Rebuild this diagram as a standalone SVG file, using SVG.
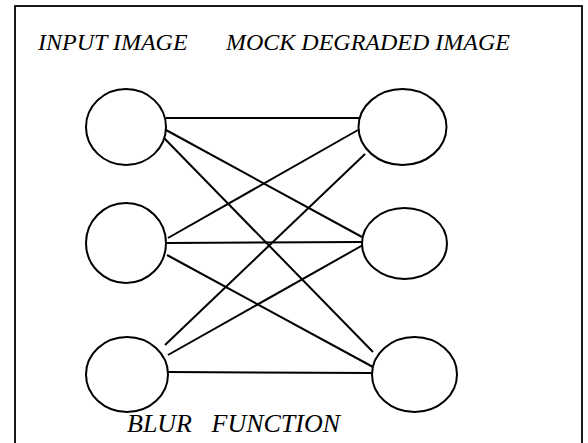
<svg xmlns="http://www.w3.org/2000/svg" width="588" height="443" viewBox="0 0 588 443">
  <style>
    .frame { fill: #fff; stroke: #000; stroke-width: 1.8; }
    .node { fill: #fff; stroke: #000; stroke-width: 2; }
    .edge { stroke: #000; stroke-width: 2; fill: none; }
    .label { font-family: "Liberation Serif", "Times New Roman", serif; font-style: italic; font-size: 24px; fill: #000; white-space: pre; }
    .label-lg { font-size: 26px; }
  </style>
  <!-- outer frame; its lower edge runs past the bottom of the canvas -->
  <rect class="frame" x="15" y="6" width="567" height="445"/>

  <text class="label" x="38" y="50">INPUT IMAGE</text>
  <text class="label" x="226" y="50">MOCK DEGRADED IMAGE</text>
  <text class="label label-lg" x="127" y="432">BLUR   FUNCTION</text>

  <g id="connectors">
    <line class="edge" x1="166" y1="118" x2="361" y2="118"/>
    <line class="edge" x1="166" y1="130" x2="362" y2="237"/>
    <line class="edge" x1="164" y1="138" x2="373" y2="352"/>
    <line class="edge" x1="168" y1="238" x2="358" y2="130"/>
    <line class="edge" x1="166" y1="243" x2="362" y2="242"/>
    <line class="edge" x1="167" y1="255" x2="373" y2="367"/>
    <line class="edge" x1="165" y1="345" x2="365" y2="154"/>
    <line class="edge" x1="168" y1="355" x2="363" y2="245"/>
    <line class="edge" x1="168" y1="372" x2="372" y2="373"/>
  </g>

  <g id="in-top"><ellipse class="node" cx="126" cy="127" rx="40" ry="38"/></g>
  <g id="in-mid"><ellipse class="node" cx="126" cy="243" rx="40" ry="40"/></g>
  <g id="in-bot"><ellipse class="node" cx="127" cy="374.5" rx="41" ry="37.5"/></g>
  <g id="out-top"><ellipse class="node" cx="402.5" cy="127" rx="44" ry="38"/></g>
  <g id="out-mid"><ellipse class="node" cx="404.5" cy="243.5" rx="42.5" ry="35.5"/></g>
  <g id="out-bot"><ellipse class="node" cx="414.5" cy="374.5" rx="42.5" ry="37.5"/></g>
</svg>
